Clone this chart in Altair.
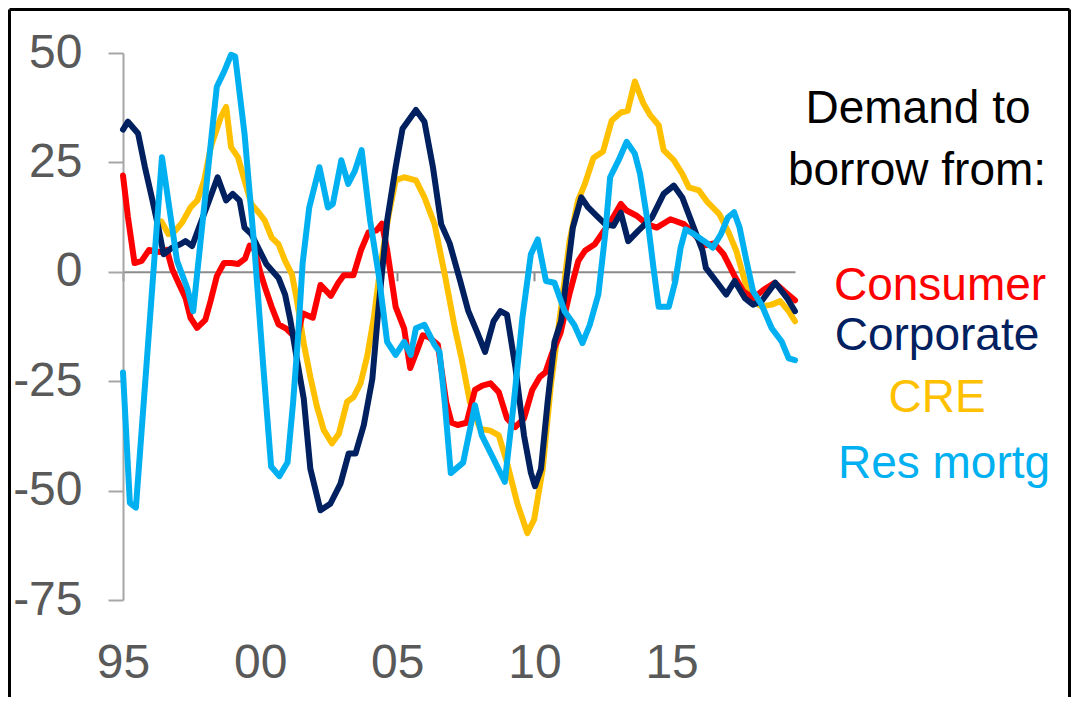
import altair as alt
import pandas as pd

# ---- data ----
cons_x = [1995.00, 1995.18, 1995.42, 1995.68, 1995.95, 1996.35, 1996.60, 1996.80, 1997.02, 1997.28,
          1997.46, 1997.70, 1998.00, 1998.20, 1998.42, 1998.68, 1998.95, 1999.20, 1999.45, 1999.62,
          1999.80, 2000.00, 2000.20, 2000.42, 2000.67, 2000.95, 2001.20, 2001.35, 2001.55, 2001.92,
          2002.20, 2002.58, 2002.85, 2003.05, 2003.40, 2003.68, 2003.95, 2004.25, 2004.44, 2004.63,
          2004.94, 2005.25, 2005.47, 2005.72, 2005.93, 2006.17, 2006.48, 2006.79, 2006.98, 2007.20,
          2007.53, 2007.83, 2008.10, 2008.40, 2008.70, 2009.00, 2009.30, 2009.62, 2009.92, 2010.20,
          2010.40, 2010.62, 2010.95, 2011.28, 2011.60, 2011.84, 2012.20, 2012.45, 2012.80, 2013.15,
          2013.36, 2013.73, 2014.10, 2014.46, 2014.96, 2015.45, 2015.82, 2016.19, 2016.55, 2016.90,
          2017.30, 2017.62, 2017.98, 2018.38, 2018.76, 2019.12, 2019.50]
cons_y = [22, 12.5, 2, 2.5, 5, 4.5, 5, 0.5, -2.5, -6,
          -10.5, -12.8, -11, -6.5, -1, 2, 2, 1.8, 3, 6,
          5, 0, -4, -8, -12, -13, -14.5, -15, -9.5, -10.5,
          -3, -5.5, -2.5, -0.8, -0.8, 5, 9, 9.5, 11, 5,
          -8, -13, -22, -18, -14.5, -15, -16.7, -30, -34.5, -35,
          -34.5, -27, -26, -25.5, -27.5, -33.5, -35.5, -33.5, -27, -24,
          -23, -19, -14, -5, 2.5, 4.8, 6.3, 8.6, 11.7, 15.5,
          14, 12.8, 10.9, 10.1, 12, 10.9, 8.6, 6, 6.5, 4,
          -1, -4.5, -6, -4, -2.5, -4.5, -6.5]

corp_x = [1995.00, 1995.18, 1995.55, 1995.80, 1996.05, 1996.29, 1996.48, 1996.79, 1997.09, 1997.28,
          1997.52, 1997.77, 1998.14, 1998.45, 1998.76, 1999.00, 1999.25, 1999.43, 1999.68, 1999.93,
          2000.23, 2000.67, 2000.91, 2001.10, 2001.34, 2001.59, 2001.83, 2002.20, 2002.56, 2002.93,
          2003.23, 2003.48, 2003.78, 2004.09, 2004.32, 2004.63, 2004.94, 2005.19, 2005.68, 2005.99,
          2006.30, 2006.60, 2006.91, 2007.28, 2007.59, 2007.90, 2008.20, 2008.51, 2008.76, 2009.00,
          2009.31, 2009.62, 2009.87, 2010.02, 2010.24, 2010.48, 2010.73, 2010.97, 2011.22, 2011.40,
          2011.71, 2011.96, 2012.27, 2012.58, 2012.88, 2013.15, 2013.42, 2013.79, 2014.28, 2014.71,
          2015.08, 2015.39, 2015.76, 2016.13, 2016.25, 2016.62, 2016.99, 2017.30, 2017.67, 2017.97,
          2018.28, 2018.78, 2019.21, 2019.50]
corp_y = [32.5, 34.3, 31.6, 23.9, 17, 10.1, 4, 5.5, 6.3, 7,
          5.9, 10.1, 16.3, 21.6, 16.3, 17.8, 16.3, 10.1, 8.6, 5.5,
          1.7, -1.4, -5.2, -11, -20, -29, -45, -54.5, -53, -48.4,
          -41.5, -41.5, -35, -24.5, -8, 11.7, 23.9, 32.7, 37, 34.3,
          23.9, 10.9, 6.5, -1.8, -9, -13.6, -18.3, -11.3, -9, -9.8,
          -22, -37.4, -45.9, -49, -45, -29.8, -16, -11.3, 1, 10.1,
          17, 14.7, 12.8, 10.9, 10.5, 13.5, 7, 9.4, 12.4, 17.8,
          19.7, 17, 10.9, 4.8, 0.9, -2.1, -5.2, -2.1, -6, -7.5,
          -6.7, -2.5, -6, -9]

cre_x = [1996.25, 1996.40, 1996.66, 1996.91, 1997.16, 1997.46, 1997.71, 1997.96, 1998.20, 1998.57,
         1998.76, 1998.94, 1999.19, 1999.43, 1999.68, 1999.99, 2000.17, 2000.42, 2000.67, 2000.91,
         2001.16, 2001.34, 2001.59, 2001.83, 2002.07, 2002.32, 2002.62, 2002.87, 2003.17, 2003.41,
         2003.66, 2003.90, 2004.15, 2004.38, 2004.69, 2004.94, 2005.25, 2005.68, 2005.99, 2006.36,
         2006.73, 2007.10, 2007.35, 2007.65, 2008.02, 2008.39, 2008.70, 2009.00, 2009.37, 2009.74,
         2009.99, 2010.30, 2010.60, 2010.97, 2011.28, 2011.59, 2011.84, 2012.15, 2012.50, 2012.82,
         2013.15, 2013.40, 2013.66, 2013.97, 2014.22, 2014.53, 2014.71, 2015.08, 2015.39, 2015.63,
         2016.00, 2016.31, 2016.74, 2017.05, 2017.36, 2017.67, 2017.97, 2018.28, 2018.65, 2018.96,
         2019.27, 2019.50]
cre_y = [10, 11.5, 8.6, 9.4, 11.3, 14.7, 16.3, 20.9, 28.5, 35.4,
         37.7, 28.5, 26.2, 20.9, 15.5, 13.2, 11.7, 7.8, 6.3, 2.5,
         -0.6, -6.5, -16.4, -24, -30.8, -36.2, -39.2, -37, -29.7, -28.6,
         -25.5, -19.4, -10.3, 0.9, 13.2, 20.9, 21.6, 20.9, 17, 10.9,
         -0.6, -12.9, -20, -29.8, -35.9, -36.3, -37.4, -43.6, -52.8, -59.7,
         -56.6, -45.1, -25.9, -8.3, 7, 16.3, 20.1, 26, 27.5, 34.6,
         36.4, 36.8, 43.5, 38.5, 35.8, 33.5, 27.8, 25.5, 22.4, 19.3,
         18.6, 15.9, 13.2, 9.4, 4.8, -2.1, -6.7, -7.9, -7.5, -6.7,
         -9, -11.3]

res_x = [1995.00, 1995.25, 1995.47, 1996.42, 1996.97, 1997.34, 1997.56, 1997.83, 1998.20, 1998.42,
         1998.69, 1998.94, 1999.09, 1999.43, 1999.80, 2000.11, 2000.40, 2000.70, 2001.00, 2001.20,
         2001.38, 2001.55, 2001.79, 2002.16, 2002.47, 2002.65, 2002.96, 2003.21, 2003.45, 2003.70,
         2004.01, 2004.32, 2004.63, 2004.94, 2005.25, 2005.49, 2005.68, 2005.99, 2006.36, 2006.54,
         2006.73, 2006.95, 2007.40, 2007.83, 2008.08, 2008.45, 2008.92, 2009.25, 2009.56, 2009.87,
         2010.12, 2010.42, 2010.73, 2011.10, 2011.45, 2011.75, 2012.02, 2012.33, 2012.58, 2012.76,
         2013.07, 2013.36, 2013.66, 2013.85, 2014.16, 2014.34, 2014.53, 2014.90, 2015.14, 2015.33,
         2015.51, 2015.82, 2016.19, 2016.50, 2016.80, 2017.05, 2017.28, 2017.48, 2017.73, 2017.97,
         2018.28, 2018.65, 2019.02, 2019.27, 2019.50]
res_y = [-23, -52.8, -53.9, 26.2, 2.5, -3.7, -9, 7.1, 29.3, 42.3,
         45.8, 49.6, 49.2, 31.6, 4.8, -21.3, -44.5, -46.7, -43.5, -30,
         -15, 2, 14.7, 23.9, 14.7, 15.5, 25.5, 20.1, 23, 27.8,
         11.7, -0.6, -16, -19, -16, -19, -12.9, -12.1, -16.7, -18.3,
         -29.8, -46, -43.6, -30.5, -37.4, -42, -48, -29.8, -10.6, 4,
         7.4, -2.1, -2.5, -9, -12.1, -16.3, -12.1, -5.2, 8.6, 21.6,
         25.5, 29.7, 27, 22.4, 10.1, 0.9, -8, -8, -2.1, 5.5,
         9.7, 8.6, 7, 5.5, 8.6, 12.4, 13.6, 10.1, 2.5, -4.4,
         -7.5, -12.9, -16, -19.8, -20.2]

x_ticks = [1995, 2000, 2005, 2010, 2015]
y_ticks = [-75, -50, -25, 0, 25, 50]
title_lines = ["Demand to", "borrow from:"]
series_names = ["Consumer", "Corporate", "CRE", "Res mortg"]

# ---- layout / style ----
W, H = 672, 547
FONT = "Liberation Sans"
AXIS_GREY = "#8c8c8c"
LABEL_GREY = "#595959"
COLORS = {"Consumer": "#FF0000", "Corporate": "#002060", "CRE": "#FFC000", "Res mortg": "#00B0F0"}

x_scale = alt.Scale(domain=[1995, 2019.5], nice=False, zero=False)
y_scale = alt.Scale(domain=[-75, 50], nice=False, zero=False)
zero_offset = -H * 75 / 125  # puts the x axis line on y = 0

x_axis = alt.Axis(values=x_ticks, labelExpr="substring(toString(datum.value), 2, 4)",
                  offset=zero_offset, grid=False, domainColor=AXIS_GREY, domainWidth=2,
                  tickColor=AXIS_GREY, tickWidth=2, tickSize=9, labelPadding=397,
                  labelBaseline="alphabetic", labelFlush=False, labelFont=FONT,
                  labelFontSize=48, labelColor=LABEL_GREY, title=None)
y_axis = alt.Axis(values=y_ticks, labelExpr="toString(datum.value)", grid=False,
                  domainColor="#a6a6a6", domainWidth=2,
                  tickColor="#a6a6a6", tickWidth=2, tickSize=15, labelPadding=26,
                  labelFont=FONT, labelFontSize=48, labelColor=LABEL_GREY, title=None)


def line(xs, ys, name):
    df = pd.DataFrame({"year": xs, "value": ys})
    return alt.Chart(df).mark_line(color=COLORS[name], strokeWidth=6,
                                   strokeJoin="round", strokeCap="round").encode(
        x=alt.X("year:Q", scale=x_scale, axis=x_axis),
        y=alt.Y("value:Q", scale=y_scale, axis=y_axis),
    )


def label(text, color, x, y):
    return alt.Chart(pd.DataFrame({"t": [text]})).mark_text(
        font=FONT, fontSize=46, align="center", baseline="alphabetic", color=color
    ).encode(text="t:N", x=alt.value(x), y=alt.value(y))


def rule(x, x2, y, y2):
    return alt.Chart(pd.DataFrame({"a": [0]})).mark_rule(color="#000000", strokeWidth=3).encode(
        x=alt.value(x), x2=alt.value(x2), y=alt.value(y), y2=alt.value(y2))


layers = [
    line(cre_x, cre_y, "CRE"),
    line(cons_x, cons_y, "Consumer"),
    line(corp_x, corp_y, "Corporate"),
    line(res_x, res_y, "Res mortg"),
    label(title_lines[0], "#000000", 795, 70),
    label(title_lines[1], "#000000", 794, 132),
    label(series_names[0], COLORS["Consumer"], 817, 247),
    label(series_names[1], COLORS["Corporate"], 814, 297),
    label(series_names[2], COLORS["CRE"], 814, 359),
    label(series_names[3], COLORS["Res mortg"], 821, 425),
    rule(-113.5, 946.5, -43.5, -43.5),
    rule(-113.5, -113.5, -43.5, 650),
    rule(946.5, 946.5, -43.5, 650),
]

chart = alt.layer(*layers).properties(
    width=W, height=H,
    padding={"left": 115, "top": 45, "right": 276, "bottom": 97},
    autosize=alt.AutoSizeParams(type="none"),
    background="#ffffff",
).configure_view(stroke=None)

chart.save("out.html", embed_options={"renderer": "svg", "actions": False})
